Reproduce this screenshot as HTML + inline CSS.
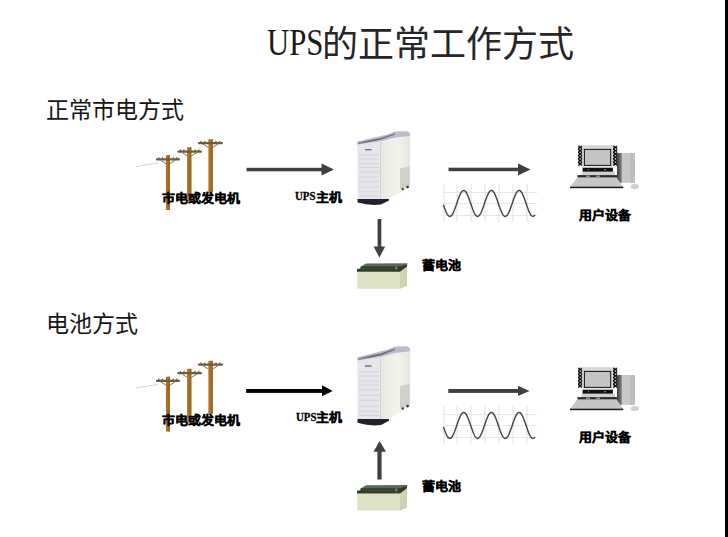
<!DOCTYPE html>
<html lang="zh-CN">
<head>
<meta charset="utf-8">
<style>
html,body{margin:0;padding:0;background:#fff;}
body{width:728px;height:537px;position:relative;overflow:hidden;font-family:"Liberation Sans",sans-serif;}
.t{position:absolute;white-space:nowrap;line-height:1;color:#000;}
.title{font-family:"Liberation Serif",serif;font-size:36px;color:#262626;}
.sub{font-family:"Liberation Serif",serif;font-size:23px;color:#151515;}
.lb{font-family:"Liberation Sans",sans-serif;font-weight:bold;font-size:13px;color:#000;transform:scaleY(0.92);transform-origin:0 0;-webkit-text-stroke:0.35px #000;}
.lu{font-family:"Liberation Serif",serif;font-weight:bold;font-size:12px;color:#000;transform:scaleX(0.9);transform-origin:0 0;-webkit-text-stroke:0.3px #000;}
.ups{display:inline-block;transform:scaleX(0.75);transform-origin:0 50%;}
svg{position:absolute;left:0;top:0;}
</style>
</head>
<body>
<svg width="728" height="537" viewBox="0 0 728 537">
<defs>
  <linearGradient id="twg" x1="0" y1="0" x2="1" y2="0">
    <stop offset="0" stop-color="#3a3a3a"/>
    <stop offset="1" stop-color="#8a8a8a"/>
  </linearGradient>
  <pattern id="spk" patternUnits="userSpaceOnUse" x="578" y="145.7" width="4.4" height="3.3">
    <rect width="4.4" height="3.3" fill="#fff"/>
    <path d="M0,0 L4.4,3.3 M4.4,0 L0,3.3" stroke="#000" stroke-width="1.3"/>
  </pattern>

  <!-- electric poles -->
  
  <!-- sine wave with grid -->
  
  <!-- computer -->
  

  <!-- UPS tower (coords for top instance) -->
  <linearGradient id="topg" gradientUnits="userSpaceOnUse" x1="358" y1="0" x2="398" y2="0">
    <stop offset="0" stop-color="#8a8a9c"/>
    <stop offset="0.4" stop-color="#5e5e72"/>
    <stop offset="1" stop-color="#8a8a9c"/>
  </linearGradient>
  <linearGradient id="sideg" x1="0" y1="0" x2="1" y2="0">
    <stop offset="0" stop-color="#e6e9e0"/>
    <stop offset="0.6" stop-color="#f1f4ec"/>
    <stop offset="1" stop-color="#e2e6dc"/>
  </linearGradient>
  
  <!-- battery (top instance coords) -->
  
</defs>

<!-- TOP SECTION -->
<g>
    <path d="M136,166.5 Q147,164.5 158,163" stroke="#d4d4d4" stroke-width="1" fill="none"/>
    <path d="M177,159 L180,154 M198,151 L201,146" stroke="#e6ddcc" stroke-width="0.8" fill="none"/>
    <path d="M160.9,160.5 L165.9,163.7 M174.9,160.5 L169.9,163.7" stroke="#7a6236" stroke-width="0.9" fill="none"/>
    <rect x="165.9" y="155.2" width="4" height="54.80000000000001" fill="#ab7224"/>
    <rect x="168.4" y="155.2" width="1.5" height="54.80000000000001" fill="#8e5c18" opacity="0.7"/>
    <rect x="155.9" y="158.3" width="24.0" height="2.2" rx="0.8" fill="#6e5e3a"/>
    <path d="M157.7,158.6 L158.8,156.7 L159.9,158.6 Z" fill="#6e5e3a"/>
    <path d="M161.3,158.6 L162.4,156.7 L163.5,158.6 Z" fill="#6e5e3a"/>
    <path d="M172.1,158.6 L173.2,156.7 L174.3,158.6 Z" fill="#6e5e3a"/>
    <path d="M175.7,158.6 L176.8,156.7 L177.9,158.6 Z" fill="#6e5e3a"/>
    <path d="M182.4,152.7 L187.1,155.9 M197.0,152.7 L191.3,155.9" stroke="#7a6236" stroke-width="0.9" fill="none"/>
    <rect x="187.1" y="147.3" width="4.2" height="53.69999999999999" fill="#ab7224"/>
    <rect x="189.8" y="147.3" width="1.6" height="53.69999999999999" fill="#8e5c18" opacity="0.7"/>
    <rect x="177.4" y="150.6" width="24.599999999999994" height="2.1" rx="0.8" fill="#6e5e3a"/>
    <path d="M179.3,150.9 L180.4,149.0 L181.5,150.9 Z" fill="#6e5e3a"/>
    <path d="M182.9,150.9 L184.0,149.0 L185.1,150.9 Z" fill="#6e5e3a"/>
    <path d="M194.0,150.9 L195.1,149.0 L196.2,150.9 Z" fill="#6e5e3a"/>
    <path d="M197.7,150.9 L198.8,149.0 L199.9,150.9 Z" fill="#6e5e3a"/>
    <path d="M203.0,144.2 L208.4,147.4 M218.0,144.2 L212.8,147.4" stroke="#7a6236" stroke-width="0.9" fill="none"/>
    <rect x="208.4" y="139.3" width="4.4" height="53.19999999999999" fill="#ab7224"/>
    <rect x="211.1" y="139.3" width="1.6" height="53.19999999999999" fill="#8e5c18" opacity="0.7"/>
    <rect x="198" y="142" width="25" height="2.2" rx="0.8" fill="#6e5e3a"/>
    <path d="M199.9,142.3 L201.0,140.4 L202.1,142.3 Z" fill="#6e5e3a"/>
    <path d="M203.7,142.3 L204.8,140.4 L205.8,142.3 Z" fill="#6e5e3a"/>
    <path d="M214.9,142.3 L216.0,140.4 L217.1,142.3 Z" fill="#6e5e3a"/>
    <path d="M218.7,142.3 L219.8,140.4 L220.8,142.3 Z" fill="#6e5e3a"/>
  </g>
<!-- arrow mains->UPS -->
<rect x="246.5" y="167.8" width="76" height="3.5" fill="#404040"/>
<polygon points="321.5,163.6 334,169.5 321.5,175.4" fill="#404040"/>
<!-- arrow UPS->load -->
<rect x="448.5" y="167.7" width="71" height="3.5" fill="#404040"/>
<polygon points="518,163.6 530.5,169.5 518,175.4" fill="#404040"/>
<g>
    <g stroke="#e6e6e6" stroke-width="1.2" fill="none">
      <line x1="443" y1="192.5" x2="537" y2="192.5"/>
      <line x1="443" y1="203.5" x2="537" y2="203.5"/>
      <line x1="443" y1="215.5" x2="537" y2="215.5"/>
      <line x1="444" y1="184" x2="444" y2="222"/>
      <line x1="457" y1="184" x2="457" y2="222"/>
      <line x1="471" y1="184" x2="471" y2="222"/>
      <line x1="485" y1="184" x2="485" y2="222"/>
      <line x1="499" y1="184" x2="499" y2="222"/>
      <line x1="513" y1="184" x2="513" y2="222"/>
      <line x1="527" y1="184" x2="527" y2="222"/>
    </g>
    <path d="M443.4,204.7 L444.1,206.8 L444.8,208.7 L445.5,210.5 L446.2,212.1 L446.9,213.6 L447.6,214.7 L448.3,215.6 L449.0,216.1 L449.7,216.4 L450.4,216.3 L451.1,215.9 L451.8,215.2 L452.5,214.2 L453.2,212.9 L453.9,211.3 L454.6,209.6 L455.3,207.7 L456.0,205.7 L456.7,203.7 L457.4,201.6 L458.1,199.6 L458.8,197.7 L459.5,195.9 L460.2,194.3 L460.9,193.0 L461.6,191.9 L462.3,191.1 L463.0,190.6 L463.7,190.4 L464.4,190.6 L465.1,191.0 L465.8,191.8 L466.5,192.9 L467.2,194.2 L467.9,195.8 L468.6,197.6 L469.3,199.5 L470.0,201.5 L470.7,203.5 L471.4,205.6 L472.1,207.6 L472.8,209.5 L473.5,211.2 L474.2,212.8 L474.9,214.1 L475.6,215.1 L476.3,215.9 L477.0,216.3 L477.7,216.4 L478.4,216.2 L479.1,215.6 L479.8,214.8 L480.5,213.6 L481.2,212.2 L481.9,210.6 L482.6,208.8 L483.3,206.9 L484.0,204.9 L484.7,202.8 L485.4,200.8 L486.1,198.8 L486.8,196.9 L487.5,195.2 L488.2,193.7 L488.9,192.5 L489.6,191.5 L490.3,190.8 L491.0,190.5 L491.7,190.4 L492.4,190.7 L493.1,191.3 L493.8,192.2 L494.5,193.4 L495.2,194.9 L495.9,196.5 L496.6,198.4 L497.3,200.3 L498.0,202.4 L498.7,204.4 L499.4,206.5 L500.1,208.4 L500.8,210.3 L501.5,211.9 L502.2,213.4 L502.9,214.6 L503.6,215.5 L504.3,216.1 L505.0,216.4 L505.7,216.3 L506.4,216.0 L507.1,215.3 L507.8,214.3 L508.5,213.1 L509.2,211.6 L509.9,209.9 L510.6,208.0 L511.3,206.0 L512.0,204.0 L512.7,201.9 L513.4,199.9 L514.1,198.0 L514.8,196.2 L515.5,194.6 L516.2,193.2 L516.9,192.0 L517.6,191.2 L518.3,190.6 L519.0,190.4 L519.7,190.5 L520.4,190.9 L521.1,191.7 L521.8,192.7 L522.5,194.0 L523.2,195.6 L523.9,197.3 L524.6,199.2 L525.3,201.2 L526.0,203.3 L526.7,205.3 L527.4,207.3 L528.1,209.2 L528.8,211.0 L529.5,212.6 L530.2,213.9 L530.9,215.0 L531.6,215.8 L532.3,216.2 L533.0,216.4 L533.7,216.2 L534.4,215.7 L535.1,214.9" stroke="#474747" stroke-width="1.45" fill="none"/>
  </g>
<g>
    <!-- tower -->
    <rect x="617" y="153" width="5" height="30" fill="url(#twg)"/>
    <rect x="621.8" y="153" width="13" height="29.8" fill="#c8c8c8"/>
    <rect x="630" y="153" width="4.8" height="29.8" fill="#bdbdbd"/>
    <!-- speakers -->
    <rect x="578" y="145.7" width="4.4" height="20" fill="url(#spk)"/>
    <rect x="612.8" y="145.7" width="4.4" height="20" fill="url(#spk)"/>
    <!-- monitor frame -->
    <rect x="582.5" y="145.2" width="30.2" height="21.3" fill="#d6d6d6"/>
    <rect x="584.4" y="149.4" width="26.3" height="16" fill="#c4c4c4" stroke="#111" stroke-width="1"/>
    <!-- monitor base -->
    <rect x="582.6" y="167.7" width="30.3" height="4.1" fill="#111"/>
    <rect x="588" y="169.2" width="1" height="1" fill="#999"/>
    <rect x="604" y="169.2" width="2" height="1" fill="#999"/>
    <rect x="581.6" y="171.8" width="33.4" height="3.4" fill="#d0d0d0"/>
    <rect x="577.4" y="175.1" width="39.6" height="2.4" fill="#2a2a2a"/>
    <rect x="586" y="175.6" width="4" height="1.2" fill="#aaa"/>
    <rect x="596" y="175.6" width="4" height="1.2" fill="#aaa"/>
    <!-- keyboard -->
    <polygon points="576.9,178 617,178 623.3,187 570,187" fill="#c6c6c6"/>
    <rect x="570" y="186.7" width="53.3" height="1.5" fill="#1a1a1a"/>
    <!-- mouse -->
    <ellipse cx="634.8" cy="186.4" rx="4.2" ry="2.5" fill="#cfcfcf"/>
  </g>
<g>
    <!-- side face -->
    <polygon points="380,141.5 410,135 410,187 388,199.5 380,199.5" fill="url(#sideg)"/>
    <!-- vent -->
    <polygon points="400,168.5 409.5,166 409.5,186.5 400,189.5" fill="#cdd1ca"/>
    <!-- front face -->
    <polygon points="357.5,143 380.5,141.5 380.5,199.5 357.5,199.5" fill="#e6e6eb"/>
    <line x1="380.5" y1="142" x2="380.5" y2="199" stroke="#d2d2d8" stroke-width="1"/>
    <g stroke="#cfcfd7" stroke-width="0.8">
      <line x1="359" y1="155" x2="379" y2="155"/>
      <line x1="359" y1="159" x2="379" y2="159"/>
      <line x1="359" y1="163.6" x2="379" y2="163.6"/>
      <line x1="359" y1="167.5" x2="379" y2="167.5"/>
      <line x1="359" y1="172" x2="379" y2="172"/>
      <line x1="359" y1="177" x2="379" y2="177"/>
      <line x1="359" y1="181.6" x2="379" y2="181.6"/>
      <line x1="359" y1="187" x2="379" y2="187"/>
      <line x1="359" y1="191.8" x2="379" y2="191.8"/>
      <line x1="359" y1="195.7" x2="379" y2="195.7"/>
    </g>
    <rect x="365" y="149" width="6.5" height="1.4" fill="#707078"/>
    <!-- top face -->
    <polygon points="357.5,141.5 388,134.3 395,131.6 407,131.2 410,133 410,136 396,137.5 381,141.2 357.5,144.5" fill="#bcbcca"/>
    <path d="M358,143.4 L381,138.8 L395,134" stroke="url(#topg)" stroke-width="1.6" fill="none"/>
    <!-- base -->
    <path d="M357.5,199 L389,199 L389,200.6 L381,204.6 Q370,206 357.5,202.6 Z" fill="#22222e"/>
    <!-- feet -->
    <circle cx="402.7" cy="189.2" r="1.1" fill="#333"/>
    <circle cx="407.6" cy="187" r="1.3" fill="#333"/>
  </g>
<g>
    <!-- side -->
    <polygon points="400,271.5 407,265 407,285.9 400,288.8" fill="#ccd2b2"/>
    <!-- body front -->
    <rect x="357.2" y="271.7" width="42.9" height="17.1" fill="#dfe2c4"/>
    <!-- lid top surface -->
    <polygon points="361,266.5 366,263.5 407.5,263.2 407,265.5 400,270 361,270" fill="#5b6b52"/>
    <!-- lid front dark band -->
    <polygon points="360.5,266.5 400,266.5 407,264.5 407,266.5 400,271.8 357,271.8 357,269 360.5,268.5" fill="#2f3d28"/>
    <path d="M362,268.6 L398,268.6" stroke="#485a42" stroke-width="0.7"/>
    <rect x="395.5" y="266.6" width="1.6" height="3" fill="#7f8f78"/>
  </g>
<!-- down arrow -->
<rect x="377.6" y="219" width="3.7" height="29" fill="#404040"/>
<polygon points="373.6,246.5 385.2,246.5 379.4,257.6" fill="#404040"/>

<!-- BOTTOM SECTION -->
<g transform="translate(0,221.5)">
    <path d="M136,166.5 Q147,164.5 158,163" stroke="#d4d4d4" stroke-width="1" fill="none"/>
    <path d="M177,159 L180,154 M198,151 L201,146" stroke="#e6ddcc" stroke-width="0.8" fill="none"/>
    <path d="M160.9,160.5 L165.9,163.7 M174.9,160.5 L169.9,163.7" stroke="#7a6236" stroke-width="0.9" fill="none"/>
    <rect x="165.9" y="155.2" width="4" height="54.80000000000001" fill="#ab7224"/>
    <rect x="168.4" y="155.2" width="1.5" height="54.80000000000001" fill="#8e5c18" opacity="0.7"/>
    <rect x="155.9" y="158.3" width="24.0" height="2.2" rx="0.8" fill="#6e5e3a"/>
    <path d="M157.7,158.6 L158.8,156.7 L159.9,158.6 Z" fill="#6e5e3a"/>
    <path d="M161.3,158.6 L162.4,156.7 L163.5,158.6 Z" fill="#6e5e3a"/>
    <path d="M172.1,158.6 L173.2,156.7 L174.3,158.6 Z" fill="#6e5e3a"/>
    <path d="M175.7,158.6 L176.8,156.7 L177.9,158.6 Z" fill="#6e5e3a"/>
    <path d="M182.4,152.7 L187.1,155.9 M197.0,152.7 L191.3,155.9" stroke="#7a6236" stroke-width="0.9" fill="none"/>
    <rect x="187.1" y="147.3" width="4.2" height="53.69999999999999" fill="#ab7224"/>
    <rect x="189.8" y="147.3" width="1.6" height="53.69999999999999" fill="#8e5c18" opacity="0.7"/>
    <rect x="177.4" y="150.6" width="24.599999999999994" height="2.1" rx="0.8" fill="#6e5e3a"/>
    <path d="M179.3,150.9 L180.4,149.0 L181.5,150.9 Z" fill="#6e5e3a"/>
    <path d="M182.9,150.9 L184.0,149.0 L185.1,150.9 Z" fill="#6e5e3a"/>
    <path d="M194.0,150.9 L195.1,149.0 L196.2,150.9 Z" fill="#6e5e3a"/>
    <path d="M197.7,150.9 L198.8,149.0 L199.9,150.9 Z" fill="#6e5e3a"/>
    <path d="M203.0,144.2 L208.4,147.4 M218.0,144.2 L212.8,147.4" stroke="#7a6236" stroke-width="0.9" fill="none"/>
    <rect x="208.4" y="139.3" width="4.4" height="53.19999999999999" fill="#ab7224"/>
    <rect x="211.1" y="139.3" width="1.6" height="53.19999999999999" fill="#8e5c18" opacity="0.7"/>
    <rect x="198" y="142" width="25" height="2.2" rx="0.8" fill="#6e5e3a"/>
    <path d="M199.9,142.3 L201.0,140.4 L202.1,142.3 Z" fill="#6e5e3a"/>
    <path d="M203.7,142.3 L204.8,140.4 L205.8,142.3 Z" fill="#6e5e3a"/>
    <path d="M214.9,142.3 L216.0,140.4 L217.1,142.3 Z" fill="#6e5e3a"/>
    <path d="M218.7,142.3 L219.8,140.4 L220.8,142.3 Z" fill="#6e5e3a"/>
  </g>
<rect x="246.2" y="389" width="76.5" height="3.9" fill="#000"/>
<polygon points="322,385.3 332.7,391 322,396.3" fill="#000"/>
<rect x="448.3" y="389" width="71" height="3.9" fill="#404040"/>
<polygon points="518,385.7 529.5,391 518,396.1" fill="#404040"/>
<g transform="translate(0,222)">
    <g stroke="#e6e6e6" stroke-width="1.2" fill="none">
      <line x1="443" y1="192.5" x2="537" y2="192.5"/>
      <line x1="443" y1="203.5" x2="537" y2="203.5"/>
      <line x1="443" y1="215.5" x2="537" y2="215.5"/>
      <line x1="444" y1="184" x2="444" y2="222"/>
      <line x1="457" y1="184" x2="457" y2="222"/>
      <line x1="471" y1="184" x2="471" y2="222"/>
      <line x1="485" y1="184" x2="485" y2="222"/>
      <line x1="499" y1="184" x2="499" y2="222"/>
      <line x1="513" y1="184" x2="513" y2="222"/>
      <line x1="527" y1="184" x2="527" y2="222"/>
    </g>
    <path d="M443.4,204.7 L444.1,206.8 L444.8,208.7 L445.5,210.5 L446.2,212.1 L446.9,213.6 L447.6,214.7 L448.3,215.6 L449.0,216.1 L449.7,216.4 L450.4,216.3 L451.1,215.9 L451.8,215.2 L452.5,214.2 L453.2,212.9 L453.9,211.3 L454.6,209.6 L455.3,207.7 L456.0,205.7 L456.7,203.7 L457.4,201.6 L458.1,199.6 L458.8,197.7 L459.5,195.9 L460.2,194.3 L460.9,193.0 L461.6,191.9 L462.3,191.1 L463.0,190.6 L463.7,190.4 L464.4,190.6 L465.1,191.0 L465.8,191.8 L466.5,192.9 L467.2,194.2 L467.9,195.8 L468.6,197.6 L469.3,199.5 L470.0,201.5 L470.7,203.5 L471.4,205.6 L472.1,207.6 L472.8,209.5 L473.5,211.2 L474.2,212.8 L474.9,214.1 L475.6,215.1 L476.3,215.9 L477.0,216.3 L477.7,216.4 L478.4,216.2 L479.1,215.6 L479.8,214.8 L480.5,213.6 L481.2,212.2 L481.9,210.6 L482.6,208.8 L483.3,206.9 L484.0,204.9 L484.7,202.8 L485.4,200.8 L486.1,198.8 L486.8,196.9 L487.5,195.2 L488.2,193.7 L488.9,192.5 L489.6,191.5 L490.3,190.8 L491.0,190.5 L491.7,190.4 L492.4,190.7 L493.1,191.3 L493.8,192.2 L494.5,193.4 L495.2,194.9 L495.9,196.5 L496.6,198.4 L497.3,200.3 L498.0,202.4 L498.7,204.4 L499.4,206.5 L500.1,208.4 L500.8,210.3 L501.5,211.9 L502.2,213.4 L502.9,214.6 L503.6,215.5 L504.3,216.1 L505.0,216.4 L505.7,216.3 L506.4,216.0 L507.1,215.3 L507.8,214.3 L508.5,213.1 L509.2,211.6 L509.9,209.9 L510.6,208.0 L511.3,206.0 L512.0,204.0 L512.7,201.9 L513.4,199.9 L514.1,198.0 L514.8,196.2 L515.5,194.6 L516.2,193.2 L516.9,192.0 L517.6,191.2 L518.3,190.6 L519.0,190.4 L519.7,190.5 L520.4,190.9 L521.1,191.7 L521.8,192.7 L522.5,194.0 L523.2,195.6 L523.9,197.3 L524.6,199.2 L525.3,201.2 L526.0,203.3 L526.7,205.3 L527.4,207.3 L528.1,209.2 L528.8,211.0 L529.5,212.6 L530.2,213.9 L530.9,215.0 L531.6,215.8 L532.3,216.2 L533.0,216.4 L533.7,216.2 L534.4,215.7 L535.1,214.9" stroke="#474747" stroke-width="1.45" fill="none"/>
  </g>
<g transform="translate(0,222)">
    <!-- tower -->
    <rect x="617" y="153" width="5" height="30" fill="url(#twg)"/>
    <rect x="621.8" y="153" width="13" height="29.8" fill="#c8c8c8"/>
    <rect x="630" y="153" width="4.8" height="29.8" fill="#bdbdbd"/>
    <!-- speakers -->
    <rect x="578" y="145.7" width="4.4" height="20" fill="url(#spk)"/>
    <rect x="612.8" y="145.7" width="4.4" height="20" fill="url(#spk)"/>
    <!-- monitor frame -->
    <rect x="582.5" y="145.2" width="30.2" height="21.3" fill="#d6d6d6"/>
    <rect x="584.4" y="149.4" width="26.3" height="16" fill="#c4c4c4" stroke="#111" stroke-width="1"/>
    <!-- monitor base -->
    <rect x="582.6" y="167.7" width="30.3" height="4.1" fill="#111"/>
    <rect x="588" y="169.2" width="1" height="1" fill="#999"/>
    <rect x="604" y="169.2" width="2" height="1" fill="#999"/>
    <rect x="581.6" y="171.8" width="33.4" height="3.4" fill="#d0d0d0"/>
    <rect x="577.4" y="175.1" width="39.6" height="2.4" fill="#2a2a2a"/>
    <rect x="586" y="175.6" width="4" height="1.2" fill="#aaa"/>
    <rect x="596" y="175.6" width="4" height="1.2" fill="#aaa"/>
    <!-- keyboard -->
    <polygon points="576.9,178 617,178 623.3,187 570,187" fill="#c6c6c6"/>
    <rect x="570" y="186.7" width="53.3" height="1.5" fill="#1a1a1a"/>
    <!-- mouse -->
    <ellipse cx="634.8" cy="186.4" rx="4.2" ry="2.5" fill="#cfcfcf"/>
  </g>
<g transform="translate(0,346.6) scale(1,1.074) translate(0,-131.6)">
    <!-- side face -->
    <polygon points="380,141.5 410,135 410,187 388,199.5 380,199.5" fill="url(#sideg)"/>
    <!-- vent -->
    <polygon points="400,168.5 409.5,166 409.5,186.5 400,189.5" fill="#cdd1ca"/>
    <!-- front face -->
    <polygon points="357.5,143 380.5,141.5 380.5,199.5 357.5,199.5" fill="#e6e6eb"/>
    <line x1="380.5" y1="142" x2="380.5" y2="199" stroke="#d2d2d8" stroke-width="1"/>
    <g stroke="#cfcfd7" stroke-width="0.8">
      <line x1="359" y1="155" x2="379" y2="155"/>
      <line x1="359" y1="159" x2="379" y2="159"/>
      <line x1="359" y1="163.6" x2="379" y2="163.6"/>
      <line x1="359" y1="167.5" x2="379" y2="167.5"/>
      <line x1="359" y1="172" x2="379" y2="172"/>
      <line x1="359" y1="177" x2="379" y2="177"/>
      <line x1="359" y1="181.6" x2="379" y2="181.6"/>
      <line x1="359" y1="187" x2="379" y2="187"/>
      <line x1="359" y1="191.8" x2="379" y2="191.8"/>
      <line x1="359" y1="195.7" x2="379" y2="195.7"/>
    </g>
    <rect x="365" y="149" width="6.5" height="1.4" fill="#707078"/>
    <!-- top face -->
    <polygon points="357.5,141.5 388,134.3 395,131.6 407,131.2 410,133 410,136 396,137.5 381,141.2 357.5,144.5" fill="#bcbcca"/>
    <path d="M358,143.4 L381,138.8 L395,134" stroke="url(#topg)" stroke-width="1.6" fill="none"/>
    <!-- base -->
    <path d="M357.5,199 L389,199 L389,200.6 L381,204.6 Q370,206 357.5,202.6 Z" fill="#22222e"/>
    <!-- feet -->
    <circle cx="402.7" cy="189.2" r="1.1" fill="#333"/>
    <circle cx="407.6" cy="187" r="1.3" fill="#333"/>
  </g>
<g transform="translate(0,221.8)">
    <!-- side -->
    <polygon points="400,271.5 407,265 407,285.9 400,288.8" fill="#ccd2b2"/>
    <!-- body front -->
    <rect x="357.2" y="271.7" width="42.9" height="17.1" fill="#dfe2c4"/>
    <!-- lid top surface -->
    <polygon points="361,266.5 366,263.5 407.5,263.2 407,265.5 400,270 361,270" fill="#5b6b52"/>
    <!-- lid front dark band -->
    <polygon points="360.5,266.5 400,266.5 407,264.5 407,266.5 400,271.8 357,271.8 357,269 360.5,268.5" fill="#2f3d28"/>
    <path d="M362,268.6 L398,268.6" stroke="#485a42" stroke-width="0.7"/>
    <rect x="395.5" y="266.6" width="1.6" height="3" fill="#7f8f78"/>
  </g>
<!-- up arrow -->
<rect x="377.4" y="450" width="4.2" height="29.5" fill="#404040"/>
<polygon points="373.5,451.8 386,451.8 379.6,440.9" fill="#404040"/>

<!-- right black edge -->
<rect x="725" y="0" width="3" height="537" fill="#000"/>
</svg>

<div class="t title" style="left:267px;top:23px;font-size:38px;color:#1a1a1a;"><span class="ups" style="transform:scaleX(0.81)">UPS</span></div>
<div class="t title" style="left:322px;top:27px;">的正常工作方式</div>
<div class="t sub" style="left:46px;top:99px;">正常市电方式</div>
<div class="t sub" style="left:46px;top:313px;">电池方式</div>

<div class="t lb" style="left:162px;top:193px;">市电或发电机</div>
<div class="t lu" style="left:295px;top:190px;">UPS</div>
<div class="t lb" style="left:316px;top:191.5px;">主机</div>
<div class="t lb" style="left:422px;top:260px;">蓄电池</div>
<div class="t lb" style="left:579px;top:210px;">用户设备</div>

<div class="t lb" style="left:162px;top:415px;">市电或发电机</div>
<div class="t lu" style="left:295.5px;top:411px;">UPS</div>
<div class="t lb" style="left:316px;top:412px;">主机</div>
<div class="t lb" style="left:422px;top:481px;">蓄电池</div>
<div class="t lb" style="left:579px;top:432px;">用户设备</div>
</body>
</html>
